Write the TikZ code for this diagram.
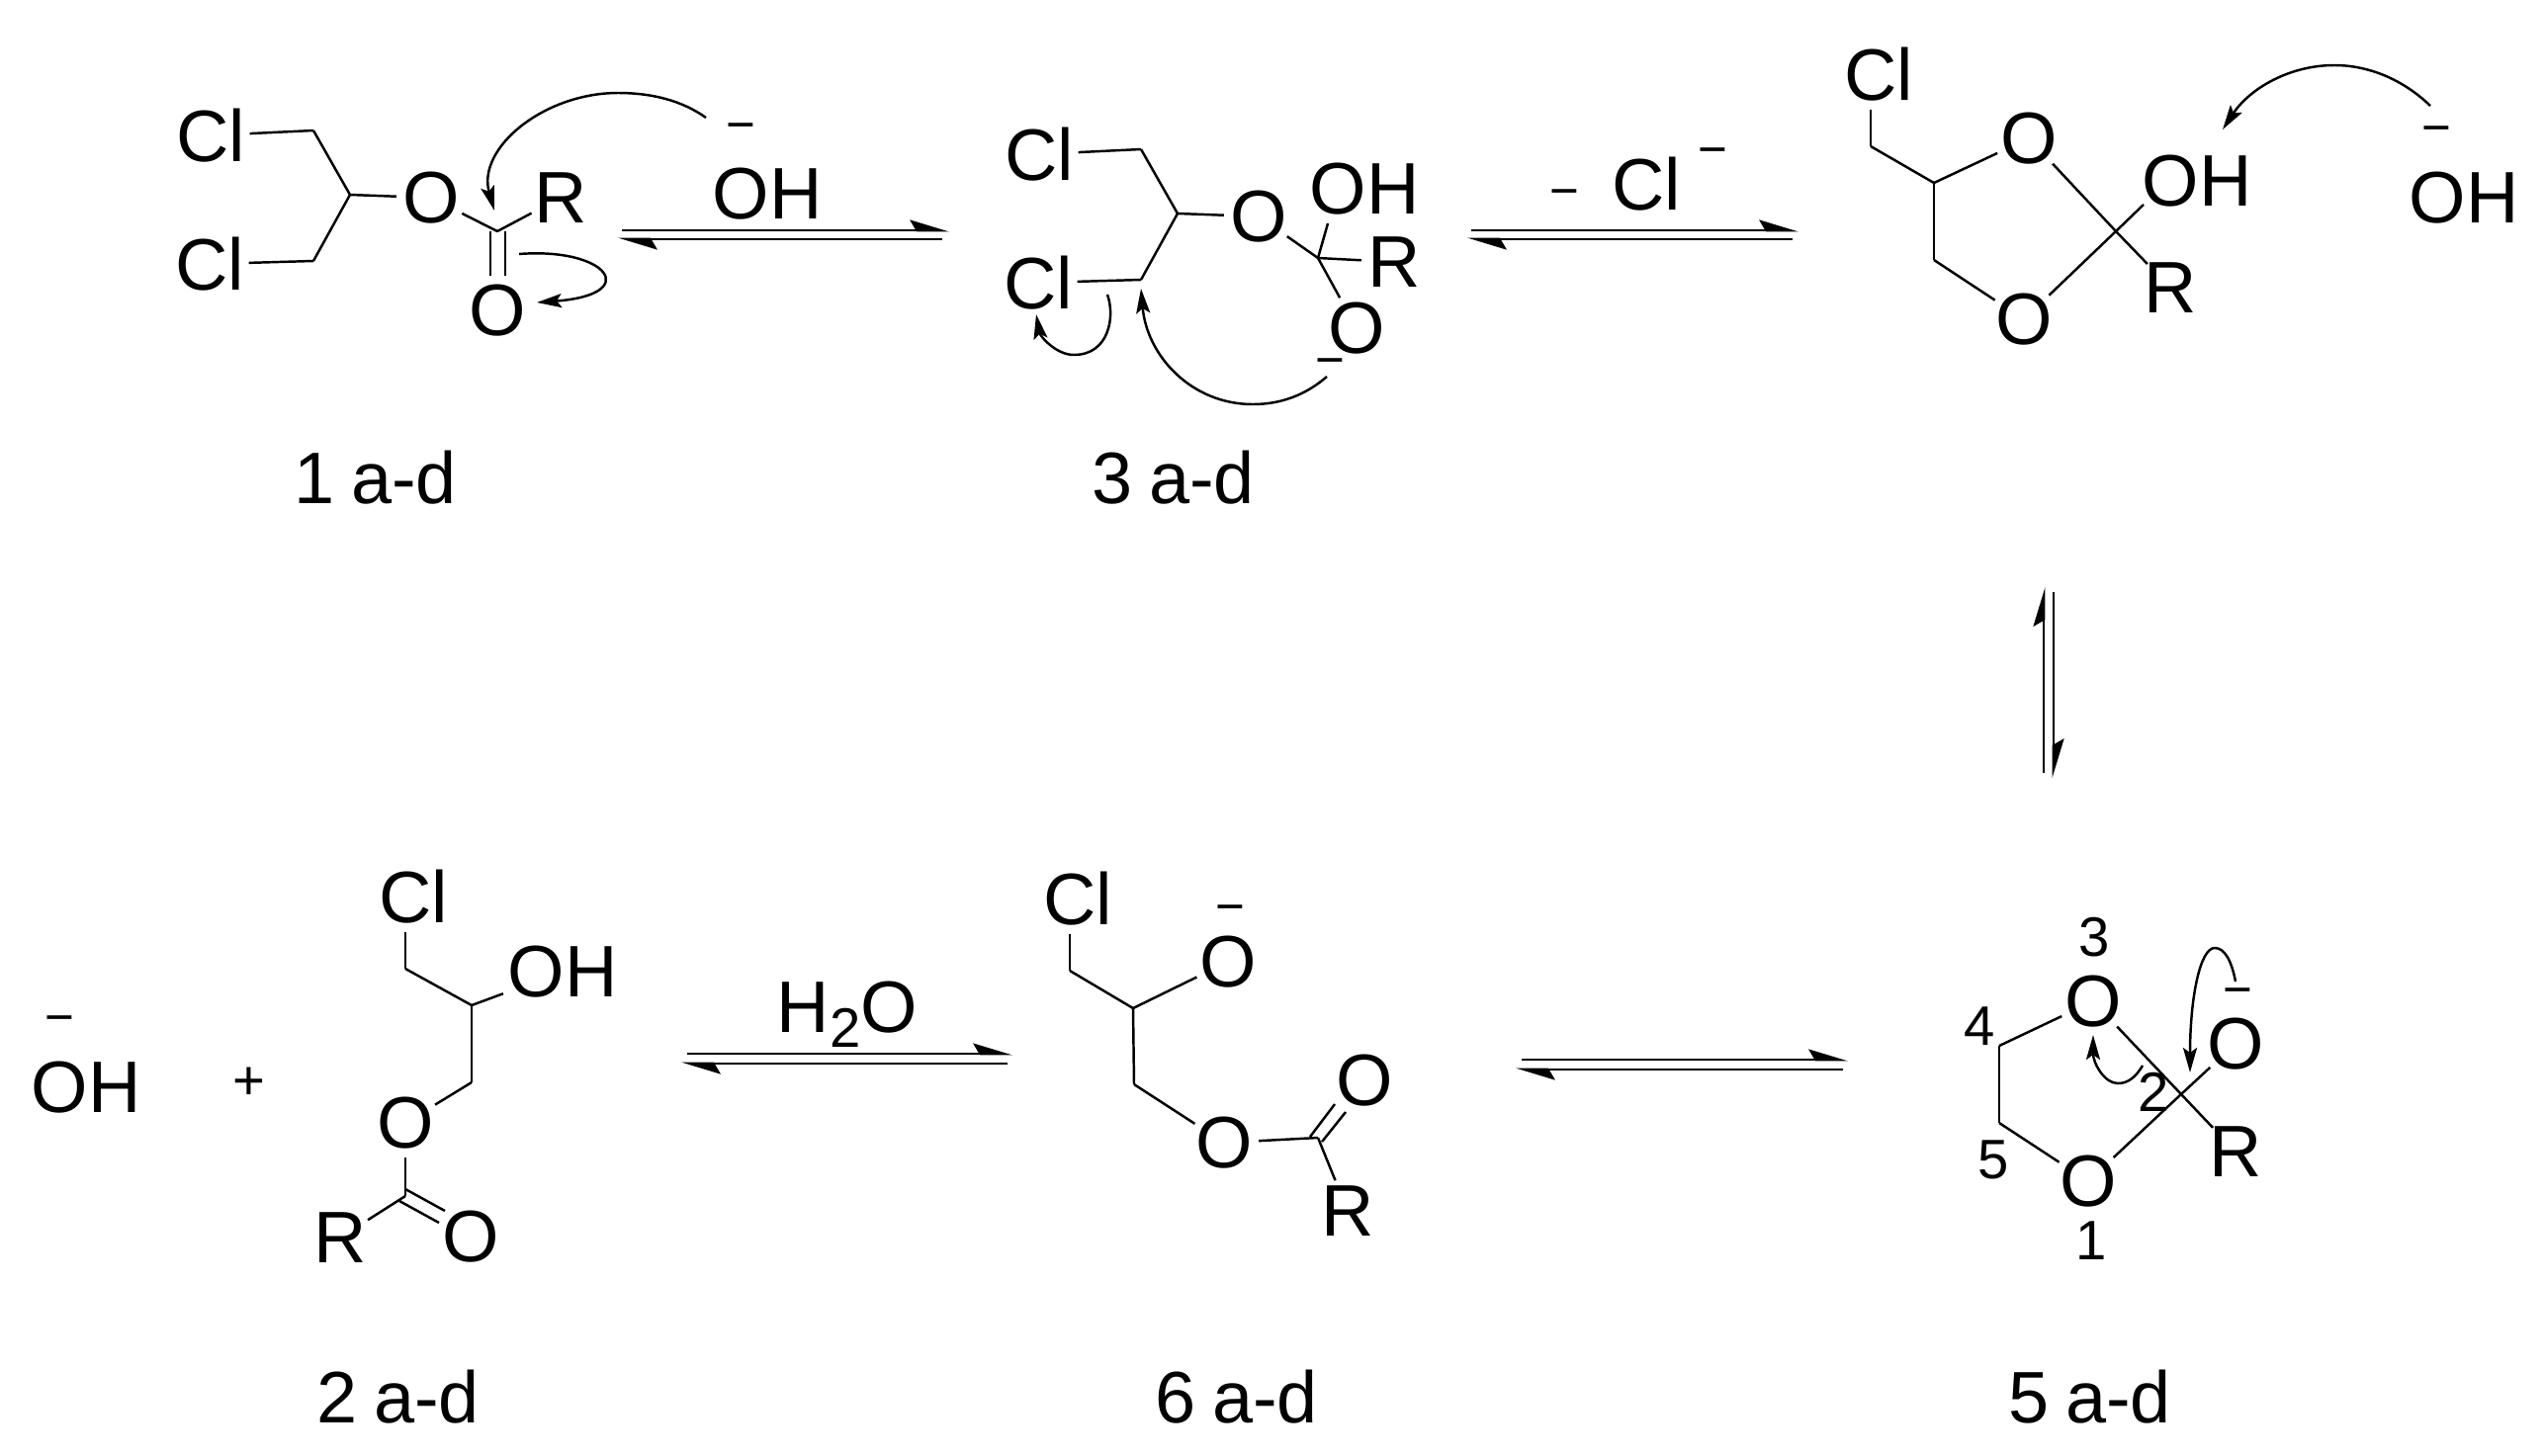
\documentclass[tikz,border=0pt]{standalone}
\usepackage{fontspec}
\setmainfont{Liberation Sans}
\usetikzlibrary{arrows.meta}
\tikzset{
    atom/.style={font=\fontsize{21}{25}\selectfont, inner xsep=0.04cm, inner ysep=0.08cm},
    ring/.style={font=\fontsize{21}{25}\selectfont, circle, inner sep=-0.03cm},
    cmpd/.style={font=\fontsize{21}{25}\selectfont, execute at begin node={\spaceskip=0.22em\relax}, anchor=base, inner sep=0pt},
    small/.style={font=\fontsize{16}{19}\selectfont, inner sep=0pt},
    charge/.style={font=\fontsize{14.5}{19}\selectfont, inner sep=0pt, yshift=-0.07cm},
    bond/.style={line width=0.7pt},
    eqline/.style={line width=0.8pt, -{Stealth[left, length=0.35cm, width=0.21cm, inset=0.06cm]}},
    push/.style={line width=0.7pt, -{Stealth[length=0.25cm, width=0.14cm, inset=0.05cm]}}
}
\begin{document}
\begin{tikzpicture}[x=0.01cm, y=-0.01cm]
\useasboundingbox (0,0) rectangle (2572,1472);

% Compound 1
\node[atom] (clA) at (213,137) {Cl};
\node[atom] (clB) at (212,267) {Cl};
\node[ring] (oA) at (436,200) {O};
\node[ring] (rA) at (567,200) {R};
\node[ring] (oB) at (503,314) {O};
\coordinate (c1a) at (317,132);
\coordinate (c1b) at (354,197);
\coordinate (c1c) at (317,264);
\coordinate (c1d) at (503,234);
\foreach \a/\b in {clA/c1a, c1a/c1b, c1b/oA, c1b/c1c, c1c/clB, oA/c1d, c1d/rA}
    \draw[bond] (\a) -- (\b);
\draw[bond] ([xshift=-0.07cm]c1d) -- ([xshift=-0.07cm]c1d |- oB.north);
\draw[bond] ([xshift=0.08cm]c1d) -- ([xshift=0.08cm]c1d |- oB.north);
\node[atom] (ohA) at (776,196) {OH};
\node[charge] (minA) at (749,127) {−};
\coordinate (pushA) at (714,119);
\coordinate (pushB) at (500,213);
\draw[push] (pushA) .. controls (690,102) and (660,94) .. (625,94) .. controls (550,94) and (482,150) .. (pushB);
\coordinate (pushC) at (525,257);
\coordinate (pushD) at (543,306);
\draw[push] (pushC) .. controls (615,250) and (650,298) .. (pushD);
\node[cmpd] (nameA) at (380,509) {1 a-d};

% Compound 3
\node[atom] (clC) at (1051,156) {Cl};
\node[atom] (clD) at (1050,286) {Cl};
\node[ring] (oC) at (1273,219) {O};
\node[atom] (ohB) at (1380,191) {OH};
\node[ring] (rB) at (1410,265) {R};
\node[ring] (oD) at (1372,332) {O};
\node[charge] (minB) at (1345,365) {−};
\coordinate (c3a) at (1154,151);
\coordinate (c3b) at (1191,216);
\coordinate (c3c) at (1154,283);
\coordinate (c3d) at (1333,261);
\coordinate (c3e) at (1343,226);
\foreach \a/\b in {clC/c3a, c3a/c3b, c3b/oC, c3b/c3c, c3c/clD, oC/c3d, c3d/c3e, c3d/rB, c3d/oD}
    \draw[bond] (\a) -- (\b);
\coordinate (pushE) at (1342,381);
\coordinate (pushF) at (1154,292);
\draw[push] (pushE) .. controls (1320,400) and (1295,409) .. (1267,409) .. controls (1205,409) and (1160,360) .. (pushF);
\coordinate (pushG) at (1120,298);
\coordinate (pushH) at (1048,318);
\draw[push] (pushG) .. controls (1128,320) and (1122,359) .. (1086,359) .. controls (1068,359) and (1052,340) .. (pushH);
\node[cmpd] (nameC) at (1187,509) {3 a-d};

% Dioxolane with OH
\node[atom] (clE) at (1900,75) {Cl};
\node[ring] (oE) at (2052,140) {O};
\node[ring] (oF) at (2047,323) {O};
\node[atom] (ohC) at (2222,183) {OH};
\node[ring] (rC) at (2195,291) {R};
\coordinate (c4a) at (1892,148);
\coordinate (c4b) at (1956,185);
\coordinate (c4c) at (1956,263);
\coordinate (c4d) at (2140,234);
\coordinate (c4e) at (2168,207);
\foreach \a/\b in {c4a/c4b, c4b/oE, c4b/c4c, c4c/oF, oE/c4d, c4d/rC, oF/c4d, c4d/c4e}
    \draw[bond] (\a) -- (\b);
\draw[bond] (c4a) -- (c4a |- clE.south);
\node[atom] (ohD) at (2492,200) {OH};
\node[charge] (minC) at (2464,130) {−};
\coordinate (pushI) at (2458,107);
\coordinate (pushJ) at (2248,131);
\draw[push] (pushI) .. controls (2430,80) and (2395,66) .. (2361,66) .. controls (2315,66) and (2275,90) .. (pushJ);

% Compound 5
\node[ring] (oG) at (2117,1013) {O};
\node[ring] (oH) at (2112,1195) {O};
\node[ring] (oI) at (2261,1056) {O};
\node[ring] (rD) at (2261,1165) {R};
\coordinate (c5a) at (2022,1058);
\coordinate (c5b) at (2022,1136);
\coordinate (c5c) at (2206,1107);
\foreach \a/\b in {oG/c5a, c5a/c5b, c5b/oH, oG/c5c, c5c/rD, oH/c5c, c5c/oI}
    \draw[bond] (\a) -- (\b);
\node[small] (n3) at (2118,948) {3};
\node[small] (n4) at (2002,1038) {4};
\node[small] (n5) at (2016,1173) {5};
\node[small] (n1) at (2115,1255) {1};
\node[small] (n2) at (2178,1105) {2};
\node[charge] (minD) at (2263,1002) {−};
\coordinate (pushK) at (2261,993);
\coordinate (pushL) at (2215,1085);
\draw[push] (pushK) .. controls (2257,972) and (2250,959) .. (2240,959) .. controls (2225,959) and (2215,1010) .. (pushL);
\coordinate (pushM) at (2167,1078);
\coordinate (pushN) at (2117,1047);
\draw[push] (pushM) .. controls (2160,1090) and (2152,1096) .. (2142,1096) .. controls (2128,1096) and (2117,1075) .. (pushN);
\node[cmpd] (nameE) at (2114,1439) {5 a-d};

% Compound 6
\node[atom] (clF) at (1090,909) {Cl};
\node[ring] (oJ) at (1242,973) {O};
\node[charge] (minE) at (1244,918) {−};
\node[ring] (oK) at (1238,1156) {O};
\node[ring] (oL) at (1380,1093) {O};
\node[ring] (rE) at (1363,1225) {R};
\coordinate (c6a) at (1082,982);
\coordinate (c6b) at (1146,1020);
\coordinate (c6c) at (1147,1097);
\coordinate (c6d) at (1333,1151);
\foreach \a/\b in {c6a/c6b, c6b/oJ, c6b/c6c, c6c/oK, oK/c6d, c6d/rE}
    \draw[bond] (\a) -- (\b);
\draw[bond] (c6a) -- (c6a |- clF.south);
\coordinate (c6e) at (1325,1150);
\coordinate (c6f) at (1350,1117);
\coordinate (c6g) at (1337,1155);
\coordinate (c6h) at (1361,1125);
\draw[bond] (c6e) -- (c6f);
\draw[bond] (c6g) -- (c6h);
\node[cmpd] (nameF) at (1251,1439) {6 a-d};

% Compound 2
\node[atom] (ohE) at (87,1100) {OH};
\node[charge] (minF) at (60,1030) {−};
\node[small] (plus) at (252,1096) {+};
\node[atom] (clG) at (418,907) {Cl};
\node[atom] (ohF) at (569,983) {OH};
\node[ring] (oM) at (410,1136) {O};
\node[ring] (rF) at (344,1252) {R};
\node[ring] (oN) at (476,1251) {O};
\coordinate (c2a) at (410,980);
\coordinate (c2b) at (477,1017);
\coordinate (c2c) at (477,1095);
\coordinate (c2d) at (410,1210);
\foreach \a/\b in {c2a/c2b, c2b/ohF, c2b/c2c, c2c/oM, c2d/rF}
    \draw[bond] (\a) -- (\b);
\draw[bond] (c2a) -- (c2a |- clG.south);
\draw[bond] (c2d) -- (c2d |- oM.south);
\coordinate (c2e) at (410,1203);
\coordinate (c2f) at (450,1225);
\coordinate (c2g) at (404,1215);
\coordinate (c2h) at (444,1237);
\draw[bond] (c2e) -- (c2f);
\draw[bond] (c2g) -- (c2h);
\node[cmpd] (nameB) at (403,1439) {2 a-d};

% Equilibrium arrows
\coordinate (eqAa) at (629,233);
\coordinate (eqAb) at (960,233);
\coordinate (eqAc) at (953,242);
\coordinate (eqAd) at (625,242);
\draw[eqline] (eqAa) -- (eqAb);
\draw[eqline] (eqAc) -- (eqAd);
\coordinate (eqBa) at (1488,233);
\coordinate (eqBb) at (1819,233);
\coordinate (eqBc) at (1813,242);
\coordinate (eqBd) at (1484,242);
\draw[eqline] (eqBa) -- (eqBb);
\draw[eqline] (eqBc) -- (eqBd);
\coordinate (eqCa) at (2067,782);
\coordinate (eqCb) at (2067,594);
\coordinate (eqCc) at (2077,599);
\coordinate (eqCd) at (2077,787);
\draw[eqline] (eqCa) -- (eqCb);
\draw[eqline] (eqCc) -- (eqCd);
\coordinate (eqDa) at (1539,1072);
\coordinate (eqDb) at (1869,1072);
\coordinate (eqDc) at (1864,1082);
\coordinate (eqDd) at (1533,1082);
\draw[eqline] (eqDa) -- (eqDb);
\draw[eqline] (eqDc) -- (eqDd);
\coordinate (eqEa) at (695,1066);
\coordinate (eqEb) at (1024,1066);
\coordinate (eqEc) at (1019,1076);
\coordinate (eqEd) at (689,1076);
\draw[eqline] (eqEa) -- (eqEb);
\draw[eqline] (eqEc) -- (eqEd);

% Arrow labels
\node[charge] (minG) at (1582,194) {−};
\node[atom] (clH) at (1665,186) {Cl};
\node[charge] (minH) at (1732,152) {−};
\node[cmpd] (water) at (857,1044) {H{\fontsize{16}{19}\selectfont\raisebox{-0.15cm}{2}}O};
\end{tikzpicture}
\end{document}
